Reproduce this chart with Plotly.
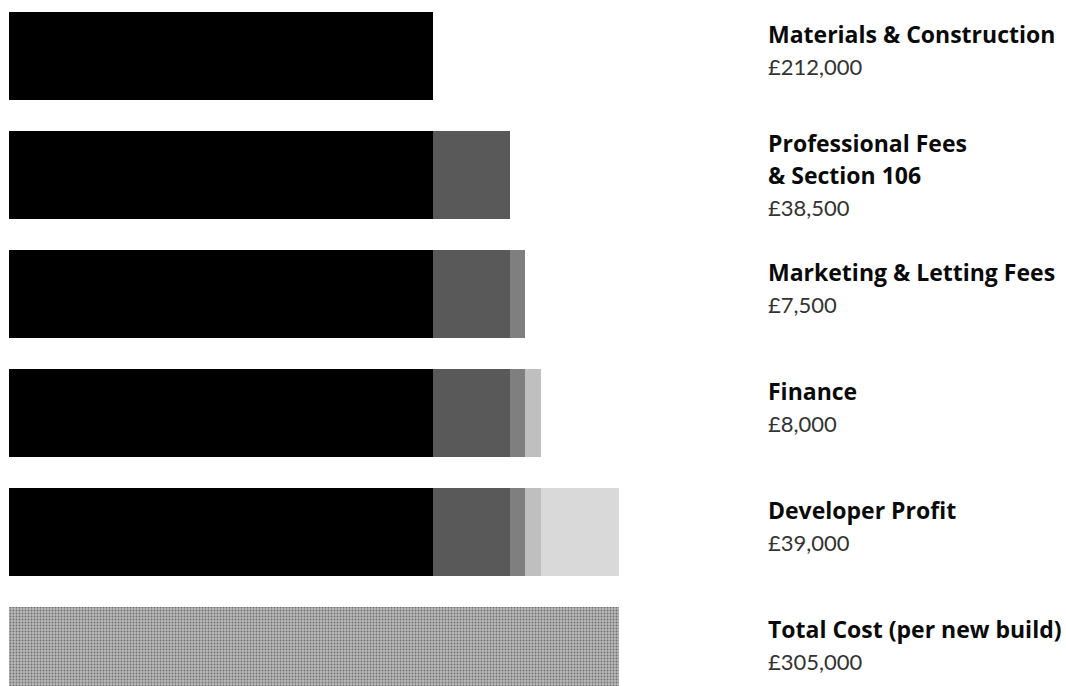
import plotly.graph_objects as go

# ---- data ----
components = ["Materials & Construction", "Professional Fees & Section 106",
              "Marketing & Letting Fees", "Finance", "Developer Profit"]
values = [212000, 38500, 7500, 8000, 39000]
total_label = "Total Cost (per new build)"
total_value = 305000
row_titles = [["Materials & Construction"],
              ["Professional Fees", "& Section 106"],
              ["Marketing & Letting Fees"],
              ["Finance"],
              ["Developer Profit"],
              ["Total Cost (per new build)"]]
row_values = ["£212,000", "£38,500", "£7,500", "£8,000", "£39,000", "£305,000"]

colors = ["#000000", "#595959", "#7f7f7f", "#bfbfbf", "#d9d9d9"]

n_rows = len(components) + 1
rows = list(range(n_rows))

fig = go.Figure()
# cumulative stacked rows: row k shows components 0..k
for c, (name, v) in enumerate(zip(components, values)):
    xs = [v if (r >= c and r < len(components)) else None for r in rows]
    fig.add_trace(go.Bar(
        y=rows, x=xs, orientation="h", name=name,
        marker=dict(color=colors[c], line=dict(width=0)),
        width=0.74, hoverinfo="skip", showlegend=False))

# total row with granite-like texture
fig.add_trace(go.Bar(
    y=[n_rows - 1], x=[total_value], orientation="h", name=total_label,
    marker=dict(color="#a9a9a9", line=dict(width=0),
                pattern=dict(shape=".", fgcolor="#707070", bgcolor="#b8b8b8",
                             size=3, solidity=0.3, fillmode="replace")),
    width=0.74, hoverinfo="skip", showlegend=False))

# labels
annotations = []
for r in rows:
    lines = [(t, True) for t in row_titles[r]] + [(row_values[r], False)]
    n = len(lines)
    spacing = 32
    center_shift = -6 if n == 2 else 0
    for i, (txt, bold) in enumerate(lines):
        off = center_shift + (i - (n - 1) / 2) * spacing
        annotations.append(dict(
            xref="paper", yref="y", x=(766 - 9) / 1057, y=r,
            xanchor="left", yanchor="middle", yshift=-off,
            text=f"<b>{txt}</b>" if bold else txt, showarrow=False,
            font=dict(family="Open Sans" if bold else "Lato",
                      size=23 if bold else 22,
                      color="#0a0a0a" if bold else "#333333")))

fig.update_layout(
    width=1066, height=686,
    margin=dict(l=9, r=0, t=0, b=0),
    paper_bgcolor="white", plot_bgcolor="white",
    barmode="stack", bargap=0,
    xaxis=dict(range=[0, 528500], visible=False, fixedrange=True),
    yaxis=dict(range=[5.294, -0.475], visible=False, fixedrange=True),
    annotations=annotations,
)

fig.write_html("out.html")
